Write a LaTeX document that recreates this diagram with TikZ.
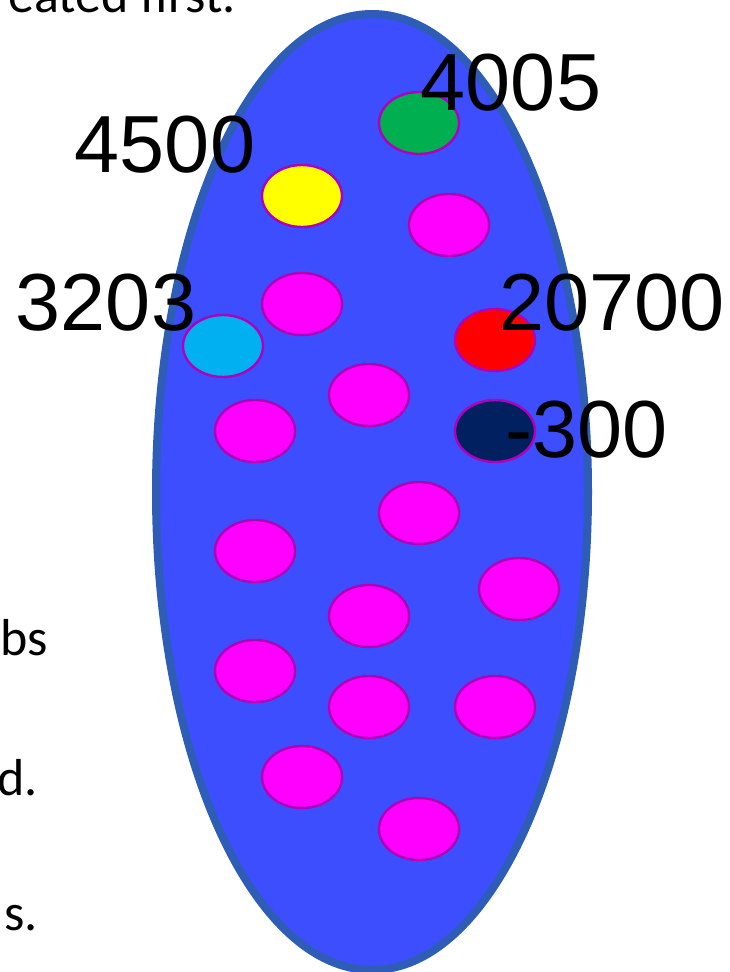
\documentclass[tikz,border=0pt]{standalone}
\usepackage{xcolor}
\usepackage{fontspec}
\setmainfont{Liberation Sans}
\newfontfamily\slidefont{Carlito}
\usepackage{tikz}
\usetikzlibrary{shapes.geometric}
\definecolor{poolfill}{HTML}{3D4EFF}
\definecolor{pooledge}{HTML}{2E5DB8}
\definecolor{jobfill}{HTML}{FF00FF}
\definecolor{jobedge}{HTML}{B000B8}
\definecolor{jobgreen}{HTML}{00B050}
\definecolor{jobyellow}{HTML}{FFFF00}
\definecolor{jobcyan}{HTML}{00B0F0}
\definecolor{jobred}{HTML}{FF0000}
\definecolor{jobnavy}{HTML}{002060}

\begin{document}
\begin{tikzpicture}[x=1pt, y=-1pt,
  pool/.style={draw=pooledge, fill=poolfill, ellipse, line width=8pt, inner sep=0pt, minimum width=432pt, minimum height=956pt},
  job/.style={draw=jobedge, fill=jobfill, ellipse, line width=2.4pt, inner sep=0pt, minimum width=80pt, minimum height=62pt},
  prio/.style={font=\fontsize{81}{90}\selectfont, inner sep=0pt},
  slide/.style={font=\slidefont\fontsize{52}{60}\selectfont, inner sep=0pt, anchor=base east}
]
  \useasboundingbox (0,0) rectangle (730,972);
  \clip (0,0) rectangle (730,972);

  \node[pool] (pool) at (372,492) {};

  \node[job, fill=jobgreen] (g) at (419,123) {};
  \node[job, fill=jobyellow] (y) at (302,196) {};
  \node[job] (m1) at (449,225) {};
  \node[job] (m2) at (302,304) {};
  \node[job, fill=jobcyan] (c) at (223,346) {};
  \node[job, fill=jobred] (r) at (495,340) {};
  \node[job] (m3) at (369,395) {};
  \node[job] (m4) at (255,431) {};
  \node[job, fill=jobnavy] (n) at (495,431) {};
  \node[job] (m5) at (419,513) {};
  \node[job] (m6) at (255,551) {};
  \node[job] (m7) at (519,589) {};
  \node[job] (m8) at (369,616) {};
  \node[job] (m9) at (255,671) {};
  \node[job] (m10) at (369,707) {};
  \node[job] (m11) at (495,707) {};
  \node[job] (m12) at (302,777) {};
  \node[job] (m13) at (419,829) {};

  \node[prio] (lg) at (511,83) {4005};
  \node[prio] (ly) at (165,145) {4500};
  \node[prio] (lc) at (106,303) {3203};
  \node[prio] (lr) at (612,303) {20700};
  \node[prio] (ln) at (587,430) {-300};

  \node[slide] (t1) at (236,12) {eated first.};
  \node[slide] (t2) at (48,655) {bs};
  \node[slide] (t3) at (38,795) {d.};
  \node[slide] (t4) at (38,930) {s.};
\end{tikzpicture}
\end{document}
